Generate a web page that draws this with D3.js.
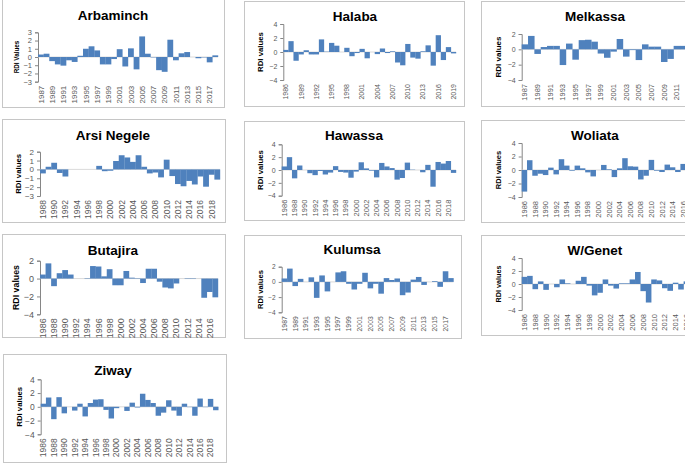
<!DOCTYPE html>
<html><head><meta charset="utf-8">
<script src="https://cdn.jsdelivr.net/npm/d3@7"></script>
<style>
html,body{margin:0;padding:0;background:#fff;}
svg{display:block;font-family:"Liberation Sans",Arial,sans-serif;}
</style></head>
<body>
<svg id="chart" width="685" height="463"></svg>
<script>
// ---- data (RDI values by year; null = no bar) ----
const arbaminchStart = 1987;
const arbaminchValues = [0.3,0.4,-0.5,-0.9,-1.05,-0.4,-0.6,0.15,1.0,1.3,0.8,-0.9,-0.9,-0.25,0.95,-1.15,1.05,-1.5,2.5,0.4,-0.05,-1.6,-1.8,2.1,-0.4,0.45,0.6,0,-0.15,-0.05,-0.65,0.2];
const halabaStart = 1986;
const halabaValues = [0.3,1.55,-1.25,-0.35,0.25,-0.35,-0.35,1.8,0.05,1.3,0.9,0,0.6,-0.6,-0.15,0.45,-0.9,0,-0.3,0.5,-0.15,0.1,-1.5,-1.9,1.15,-0.8,-0.95,0.1,0.95,-1.95,2.4,-1.15,0.7,-0.2];
const melkassaStart = 1987;
const melkassaValues = [0.65,1.75,-0.6,0.3,0.45,0.45,-2.05,0.75,-1.35,1.2,1.25,1.0,-0.55,-1.1,-0.3,1.35,-0.95,-0.1,-1.4,0.65,0.35,0.35,-1.65,-1.25,0.45,0.45];
const arsiNegeleStart = 1988;
const arsiNegeleValues = [-0.45,0.3,0.75,-0.4,-0.8,null,null,null,null,null,0.4,-0.2,-0.15,0.95,1.6,1.35,0.85,1.6,0.3,-0.45,-0.35,-0.9,1.1,-0.75,-1.65,-1.9,-1.3,-1.7,-0.8,-1.95,-0.6,-1.15];
const hawassaStart = 1986;
const hawassaValues = [0.55,2.0,-1.3,0.7,0,-0.5,-0.8,-0.15,-0.7,-0.4,0.6,-0.3,-0.4,-1.2,-0.25,1.2,0.25,-0.1,-1.15,1.1,0.55,0.3,-1.5,-1.25,1.15,0.05,0,-0.35,0.8,-2.6,1.25,1.0,1.4,-0.45];
const woliataStart = 1986;
const woliataValues = [-3.2,1.45,-0.85,-0.55,-0.75,0.35,-0.65,1.6,0.65,-0.1,0.65,0.25,-0.35,-0.95,0,0.75,0.1,-1.05,0.25,1.75,0.55,0.5,-1.4,-0.85,1.5,-0.1,-0.3,0.8,0.4,-0.3,0.9];
const butajiraStart = 1986;
const butajiraValues = [0.45,1.7,-0.85,0.6,0.95,0.45,null,null,-0.05,1.4,1.35,0.25,1.05,-0.75,-0.75,0.85,0.1,-0.05,-0.5,1.1,1.1,-0.35,-1.0,-1.1,-0.55,null,-0.05,-0.05,null,-2.15,-1.5,-2.1];
const kulumsaStart = 1987;
const kulumsaValues = [0.45,1.75,-0.55,0.4,null,0.6,-2.1,0.85,-1.25,null,1.25,1.4,-0.25,-1.0,-0.25,1.2,-0.85,-0.25,-1.55,0.5,0.25,0.45,-1.75,-1.4,0.3,0.65,-0.4,null,0.1,-0.65,1.4,0.5];
const wGenetStart = 1986;
const wGenetValues = [1.1,1.25,-0.8,0.4,-0.9,null,-0.5,0.7,0.1,null,0.5,1.1,-0.25,-1.75,-1.35,0.7,-0.25,-0.7,0.1,0.1,0.7,1.85,-1.1,-2.85,0.7,0.55,-0.65,-1.05,0.2,-0.85,0.4];
const ziwayStart = 1986;
const ziwayValues = [0.45,1.35,-1.8,1.4,-0.95,null,-0.55,0.45,-1.4,0.55,1.05,1.1,-0.45,-1.7,-0.2,null,-0.6,0.6,-0.1,1.9,1.0,0.55,-1.3,-0.85,0.95,-0.55,-1.3,0.45,-0.05,-1.3,1.2,-0.05,1.15,-0.5];

// y tick labels per panel
const ticksM3to3 = [-3,-2,-1,0,1,2,3];
const ticksM4to4 = [-4,-2,0,2,4];
const ticksM4to2 = [-4,-2,0,2];
const ticksM3to2 = [-3,-2,-1,0,1,2];

// ---- layout ----
const panels = [
 {title:"Arbaminch", start:arbaminchStart, values:arbaminchValues, ticks:ticksM3to3, dom:[-3,3], step:2, ylab:"RDI Values",
  box:[2,-1,222,108], tx:113, l:38, r:218, top:32.3, bot:81.7, ty:20, yx:17, xf:8, tf:7.5, yf:6.3},
 {title:"Halaba", start:halabaStart, values:halabaValues, ticks:ticksM4to4, dom:[-4,4], step:3, ylab:"RDI values",
  box:[244,1,220,105], tx:355, l:283.3, r:456, top:24, bot:80, ty:21, yx:260, xf:7, tf:7, yf:7.8},
 {title:"Melkassa", start:melkassaStart, values:melkassaValues, ticks:ticksM4to2, dom:[-4,2], step:2, ylab:"RDI values",
  box:[481,1,260,105], tx:595, l:521.7, r:686.3, top:34, bot:80, ty:21, yx:498, xf:7.5, tf:7, yf:8},
 {title:"Arsi Negele", start:arsiNegeleStart, values:arsiNegeleValues, ticks:ticksM3to2, dom:[-3,2], step:2, ylab:"RDI values",
  box:[2,119,223,103], tx:113, l:40, r:220, top:151.7, bot:196, ty:140, yx:18, xf:8.5, tf:8, yf:7.8},
 {title:"Hawassa", start:hawassaStart, values:hawassaValues, ticks:ticksM4to4, dom:[-4,4], step:2, ylab:"RDI values",
  box:[244,121,220,99], tx:354, l:281.7, r:456, top:144.3, bot:195.7, ty:139.5, yx:260.5, xf:7.5, tf:7, yf:7.8},
 {title:"Woliata", start:woliataStart, values:woliataValues, ticks:ticksM4to4, dom:[-4,4], step:2, ylab:"RDI values",
  box:[481,120,260,102], tx:595, l:521.7, r:685.7, top:143, bot:197, ty:140, yx:498, xf:7.5, tf:7, yf:7.5},
 {title:"Butajira", start:butajiraStart, values:butajiraValues, ticks:ticksM4to2, dom:[-4,2], step:2, ylab:"RDI values",
  box:[2,234,223,103], tx:113, l:40, r:218, top:260.7, bot:314.3, ty:255, yx:16, xf:9, tf:9, yf:8.8},
 {title:"Kulumsa", start:kulumsaStart, values:kulumsaValues, ticks:ticksM4to2, dom:[-4,2], step:2, ylab:"RDI values",
  box:[244,235,217,103], tx:352, l:281.7, r:453.5, top:266.7, bot:312.3, ty:254, yx:260, xf:6.8, tf:6.5, yf:7.6},
 {title:"W/Genet", start:wGenetStart, values:wGenetValues, ticks:ticksM4to4, dom:[-4,4], step:2, ylab:"RDI values",
  box:[481,235,260,100], tx:595, l:521.7, r:689, top:258, bot:310, ty:255, yx:498, xf:7.5, tf:7, yf:7.2},
 {title:"Ziway", start:ziwayStart, values:ziwayValues, ticks:ticksM4to4, dom:[-4,4], step:2, ylab:"RDI values",
  box:[3,354,223,108], tx:113, l:40.7, r:218.3, top:379.3, bot:434.3, ty:375, yx:19, xf:8.5, tf:8.5, yf:7.8}
];

const svg = d3.select("#chart");
const BAR = "#4f81bd", AXIS = "#868686", TXT = "#595959";

panels.forEach(p => {
  const g = svg.append("g");
  const [bx,by,bw,bh] = p.box;
  g.append("rect").attr("x",bx+0.5).attr("y",by+0.5).attr("width",bw).attr("height",bh)
    .attr("fill","#fff").attr("stroke","#c6c6c6").attr("stroke-width",1);

  const data = p.values.map((v,i)=>({year:String(p.start+i), value:v}));
  const x = d3.scaleBand().domain(data.map(d=>d.year)).range([p.l,p.r]).padding(0);
  const y = d3.scaleLinear().domain(p.dom).range([p.bot,p.top]);

  // title
  g.append("text").attr("x",p.tx).attr("y",p.ty)
    .attr("text-anchor","middle").attr("font-weight","bold").attr("font-size",13.5).attr("fill","#000")
    .text(p.title);

  // y axis
  const ya = g.append("g").attr("transform",`translate(${p.l},0)`)
    .call(d3.axisLeft(y).tickValues(p.ticks).tickSize(3).tickPadding(3).tickFormat(d3.format("d")));
  ya.select(".domain").attr("stroke",AXIS);
  ya.selectAll(".tick line").attr("stroke",AXIS);
  ya.selectAll(".tick text").attr("fill",TXT).attr("font-size",p.tf).attr("font-family","Liberation Sans, Arial, sans-serif");

  // zero line
  g.append("line").attr("x1",p.l).attr("x2",p.r).attr("y1",y(0)).attr("y2",y(0))
    .attr("stroke","#d0d0d0").attr("stroke-width",0.8);

  // bars
  g.selectAll("rect.bar").data(data.filter(d=>d.value!==null)).join("rect")
    .attr("class","bar")
    .attr("x",d=>x(d.year)).attr("width",x.bandwidth()+0.2)
    .attr("y",d=>y(Math.max(0,d.value)))
    .attr("height",d=>Math.abs(y(d.value)-y(0)))
    .attr("fill",BAR);

  // x axis labels (rotated)
  const labYears = data.map(d=>d.year).filter((d,i)=>i%p.step===0);
  const xa = g.append("g").attr("transform",`translate(0,${p.bot})`)
    .call(d3.axisBottom(x).tickValues(labYears).tickSize(0).tickPadding(0));
  xa.select(".domain").remove();
  xa.selectAll(".tick text")
    .attr("transform","rotate(-90)").attr("text-anchor","end")
    .attr("x",-4).attr("y",0).attr("dy","0.35em")
    .attr("fill",TXT).attr("font-size",p.xf).attr("font-family","Liberation Sans, Arial, sans-serif");

  // y label
  g.append("text").attr("transform",`translate(${p.yx},${(p.top+p.bot)/2}) rotate(-90)`)
    .attr("text-anchor","middle").attr("dy","0.35em")
    .attr("font-weight","bold").attr("font-size",p.yf).attr("fill","#000")
    .text(p.ylab);
});
</script>
</body></html>
